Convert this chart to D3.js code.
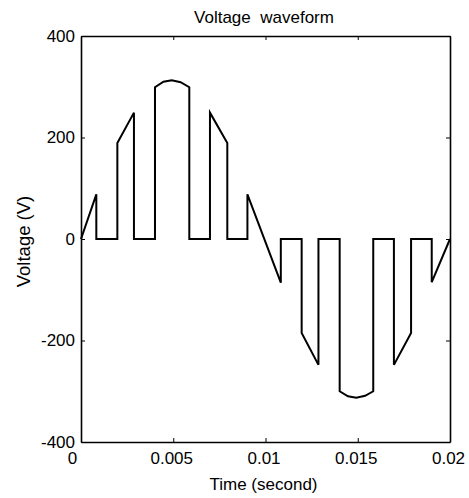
<!DOCTYPE html>
<html>
<head>
<meta charset="utf-8">
<script src="https://cdn.jsdelivr.net/npm/d3@7"></script>
<style>
  body { margin: 0; background: #fff; }
  svg { display: block; font-family: "Liberation Sans", Arial, Helvetica, sans-serif; }
</style>
</head>
<body>
<svg id="chart" width="469" height="498"></svg>
<script>
// ---- data ----
const times = [
  0, 0.00083, 0.00083, 0.00197, 0.00197, 0.00287, 0.00287, 0.00401,
  0.00401, 0.00447, 0.00492, 0.00540, 0.00587, 0.00587, 0.00699, 0.00699,
  0.00793, 0.00793, 0.00902, 0.00902, 0.01083, 0.01083, 0.01196, 0.01196,
  0.01287, 0.01287, 0.01402, 0.01402, 0.01447, 0.01492, 0.01540, 0.01584,
  0.01584, 0.01696, 0.01696, 0.01789, 0.01789, 0.01901, 0.01901, 0.02
];
const volts = [
  0, 88, 0, 0, 189, 249, 0, 0,
  299, 310, 313, 309, 299, 0, 0, 249,
  189, 0, 0, 88, -86, 0, 0, -185,
  -248, 0, 0, -300, -310, -313, -309, -300,
  0, 0, -248, -185, 0, 0, -85, 0
];
const xTicks = [0, 0.005, 0.01, 0.015, 0.02];
const xTickLabels = ["0", "0.005", "0.01", "0.015", "0.02"];
const yTicks = [-400, -200, 0, 200, 400];
const yTickLabels = ["-400", "-200", "0", "200", "400"];
const titleText = "Voltage  waveform";
const xLabelText = "Time (second)";
const yLabelText = "Voltage (V)";

// ---- layout ----
const L = 81, R = 450, T = 36, B = 442;
const svg = d3.select("#chart");
const x = d3.scaleLinear().domain([0, 0.02]).range([L, R]);
const y = d3.scaleLinear().domain([-400, 400]).range([B, T]);
const FS = 17;

function styleAxis(g) {
  g.selectAll(".domain").attr("stroke", "#000").attr("stroke-width", 1.6);
  g.selectAll(".tick line").attr("stroke", "#000").attr("stroke-width", 1);
  g.selectAll("text").attr("fill", "#000").style("font-size", FS + "px")
    .style("font-family", '"Liberation Sans", Arial, sans-serif');
}

// bottom axis with labels
const gx = svg.append("g").attr("transform", `translate(0,${B})`)
  .call(d3.axisBottom(x).tickValues(xTicks)
    .tickFormat((d, i) => xTickLabels[i])
    .tickSizeInner(-4).tickSizeOuter(0).tickPadding(10));
styleAxis(gx);
gx.selectAll(".tick text").attr("dx", (d, i) => i === 0 ? -9 : -2);

// top axis (ticks only)
const gt = svg.append("g").attr("transform", `translate(0,${T})`)
  .call(d3.axisTop(x).tickValues(xTicks).tickFormat("")
    .tickSizeInner(-4).tickSizeOuter(0));
styleAxis(gt);

// left axis with labels
const gy = svg.append("g").attr("transform", `translate(${L},0)`)
  .call(d3.axisLeft(y).tickValues(yTicks)
    .tickFormat((d, i) => yTickLabels[i])
    .tickSizeInner(-4).tickSizeOuter(0).tickPadding(6));
styleAxis(gy);

// right axis (ticks only)
const gr = svg.append("g").attr("transform", `translate(${R},0)`)
  .call(d3.axisRight(y).tickValues(yTicks).tickFormat("")
    .tickSizeInner(-4).tickSizeOuter(0));
styleAxis(gr);

// waveform
const pts = times.map((t, i) => [t, volts[i]]);
svg.append("path")
  .datum(pts)
  .attr("fill", "none")
  .attr("stroke", "#000")
  .attr("stroke-width", 2)
  .attr("stroke-linejoin", "miter")
  .attr("d", d3.line().x(d => x(d[0])).y(d => y(d[1])));

// title
svg.append("text")
  .attr("x", 264).attr("y", 22.7)
  .attr("text-anchor", "middle")
  .style("font-size", FS + "px")
  .style("white-space", "pre")
  .attr("fill", "#000")
  .text(titleText);

// x label
svg.append("text")
  .attr("x", 263.5).attr("y", 490)
  .attr("text-anchor", "middle")
  .style("font-size", FS + "px")
  .attr("fill", "#000")
  .text(xLabelText);

// y label
svg.append("text")
  .attr("transform", "translate(29.5,241.5) rotate(-90)")
  .attr("text-anchor", "middle")
  .style("font-size", "18.5px")
  .attr("fill", "#000")
  .text(yLabelText);
</script>
</body>
</html>
